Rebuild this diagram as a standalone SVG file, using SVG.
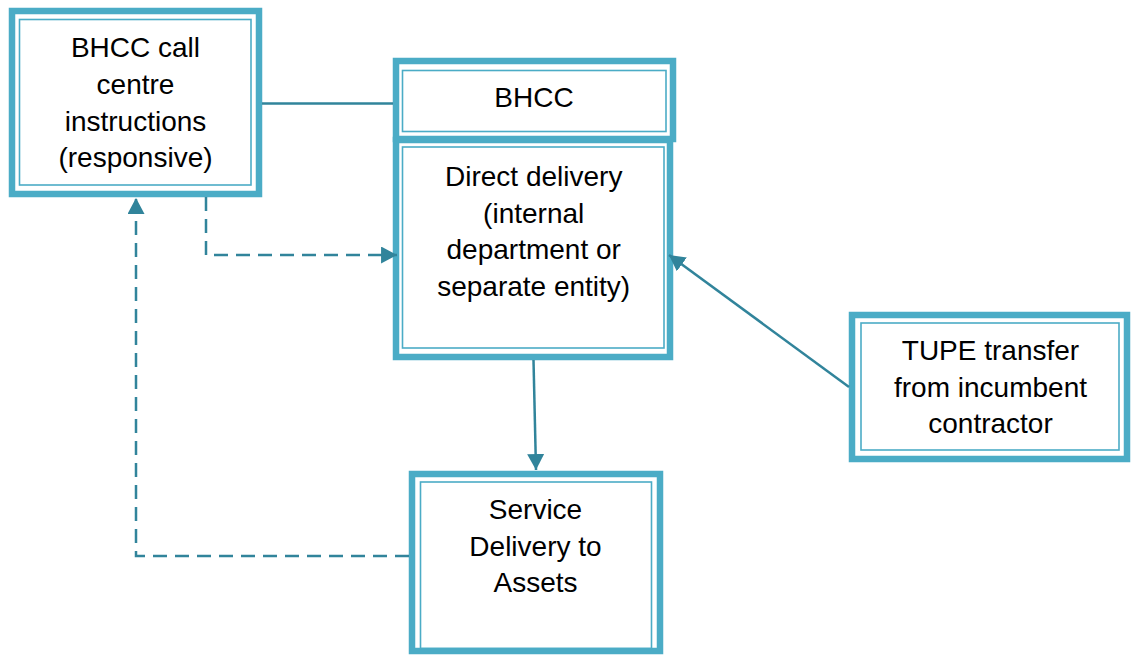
<svg xmlns="http://www.w3.org/2000/svg" width="1131" height="655" viewBox="0 0 1131 655">
<style>
.outer{fill:#fff;stroke:#4BACC6;stroke-width:6.5}
.inner{fill:none;stroke:#4BACC6;stroke-width:1.6}
.lbl{font-family:"Liberation Sans",Arial,sans-serif;font-size:28px;fill:#000;text-anchor:middle}
.conn{fill:none;stroke:#31849B;stroke-width:2.5}
.dash{stroke-dasharray:14 8}
</style>
<defs>
<marker id="ah" markerUnits="userSpaceOnUse" markerWidth="16" markerHeight="17" viewBox="0 0 15 16" refX="15" refY="8" orient="auto">
<path d="M0,0 L15,8 L0,16 Z" fill="#31849B"/>
</marker>
</defs>
<g id="n-callcentre">
<rect class="outer" x="12" y="11" width="247" height="183"/>
<rect class="inner" x="19.5" y="19.5" width="231.5" height="165.5"/>
<text class="lbl" x="135.5" y="57.3">BHCC call</text>
<text class="lbl" x="135.5" y="94">centre</text>
<text class="lbl" x="135.5" y="130.7">instructions</text>
<text class="lbl" x="135.5" y="167.3">(responsive)</text>
</g>
<g id="n-bhcc">
<rect class="outer" x="396" y="61" width="277" height="78"/>
<rect class="inner" x="402.5" y="70.5" width="263.5" height="61"/>
<text class="lbl" x="534" y="107.3">BHCC</text>
</g>
<g id="n-direct">
<rect class="outer" x="396" y="140" width="274" height="217"/>
<rect class="inner" x="402.5" y="147" width="261.5" height="201"/>
<text class="lbl" x="533.7" y="186">Direct delivery</text>
<text class="lbl" x="533.7" y="222.7">(internal</text>
<text class="lbl" x="533.7" y="259.3">department or</text>
<text class="lbl" x="533.7" y="296">separate entity)</text>
</g>
<g id="n-tupe">
<rect class="outer" x="852" y="315" width="275" height="144"/>
<rect class="inner" x="861" y="323" width="258" height="127"/>
<text class="lbl" x="990.5" y="360">TUPE transfer</text>
<text class="lbl" x="990.5" y="396.7">from incumbent</text>
<text class="lbl" x="990.5" y="433.3">contractor</text>
</g>
<g id="n-service">
<rect class="outer" x="412" y="474" width="248" height="177"/>
<rect class="inner" x="420.5" y="482" width="231" height="166.5"/>
<text class="lbl" x="535.5" y="519">Service</text>
<text class="lbl" x="535.5" y="555.7">Delivery to</text>
<text class="lbl" x="535.5" y="592.3">Assets</text>
</g>
<g id="connectors">
<path class="conn" d="M262,103.5 H393"/>
<path class="conn dash" d="M206,197 V255 H397" marker-end="url(#ah)"/>
<path class="conn dash" d="M409,556 H136 V198" marker-end="url(#ah)"/>
<path class="conn" d="M533.5,360 L536,470" marker-end="url(#ah)"/>
<path class="conn" d="M849,387 L669,255" marker-end="url(#ah)"/>
</g>
</svg>
